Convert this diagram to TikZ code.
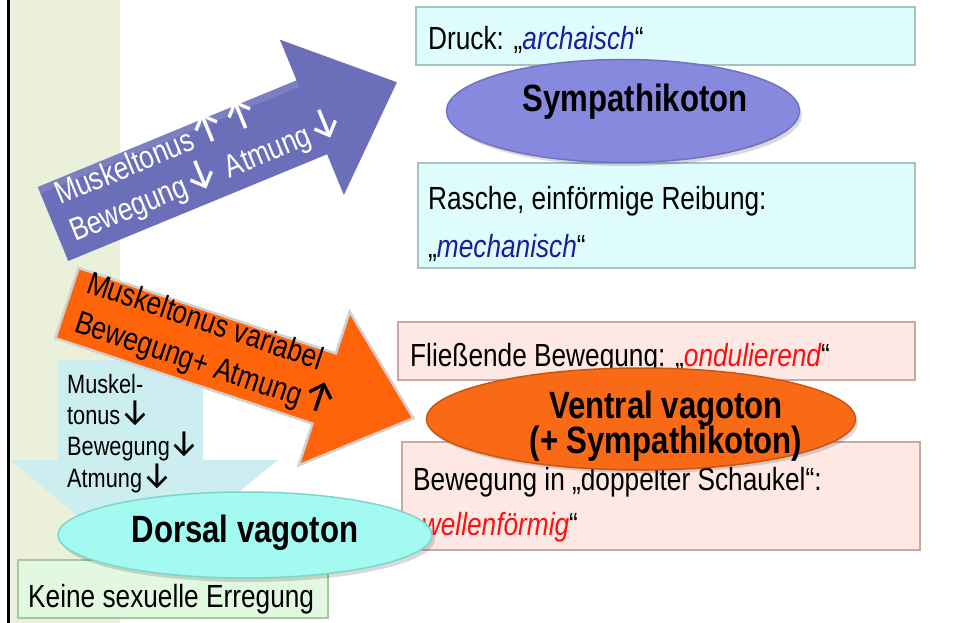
\documentclass[tikz,border=0pt]{standalone}
\usepackage{fontspec}
\setmainfont[FakeStretch=0.82]{Liberation Sans}
\newfontfamily\arrf{Fira Sans}
\newcommand{\dn}{\scalebox{1.25}[1.4]{\arrf ↓}}
\newcommand{\upa}{\scalebox{1.25}[1.4]{\arrf ↑}}
\usetikzlibrary{shapes.geometric}
\definecolor{bandc}{HTML}{EBF0DA}
\definecolor{cyanbox}{HTML}{DFFCFC}
\definecolor{cyanedge}{HTML}{A6C2C2}
\definecolor{pinkbox}{HTML}{FDE8E3}
\definecolor{pinkedge}{HTML}{C9A9A3}
\definecolor{greenbox}{HTML}{E2F8E0}
\definecolor{greenedge}{HTML}{A6C6A0}
\definecolor{sympc}{HTML}{8789DF}
\definecolor{sympedge}{HTML}{6F72BE}
\definecolor{ventc}{HTML}{F96A17}
\definecolor{ventedge}{HTML}{C9560F}
\definecolor{dorsc}{HTML}{A3FAF0}
\definecolor{dorsedge}{HTML}{7ED5CA}
\definecolor{barrowc}{HTML}{6B6EB8}
\definecolor{oarrowc}{HTML}{FF640A}
\definecolor{carrowc}{HTML}{CDEEF0}
\definecolor{navyt}{HTML}{1C1C9C}
\definecolor{redt}{HTML}{FF1010}
\tikzset{
  boxc/.style={rectangle, inner sep=0pt, outer sep=0pt, fill=cyanbox, draw=cyanedge, line width=1.5pt, anchor=north west},
  boxp/.style={rectangle, inner sep=0pt, outer sep=0pt, fill=pinkbox, draw=pinkedge, line width=1.5pt, anchor=north west},
  boxg/.style={rectangle, inner sep=0pt, outer sep=0pt, fill=greenbox, draw=greenedge, line width=1.5pt, anchor=north west},
  ell/.style={ellipse, inner sep=0pt, outer sep=0pt, line width=1.5pt},
  txt/.style={anchor=base west, inner sep=0pt, font=\fontsize{32}{38}\selectfont},
  head/.style={anchor=base, inner sep=0pt, font=\fontsize{38}{44}\selectfont\bfseries},
  atxt/.style={anchor=base west, inner sep=0pt, font=\fontsize{32}{38}\selectfont},
  ctxt/.style={anchor=base west, inner sep=0pt, font=\fontsize{26.5}{31}\selectfont},
}
\begin{document}
\begin{tikzpicture}[x=1pt,y=-1pt]
\useasboundingbox (0,0) rectangle (954,623);
\fill[white] (0,0) rectangle (954,623);
\fill[bandc] (10,0) rectangle (120,623);
\fill[black] (7,0) rectangle (10,623);

% top right cyan boxes
\node[boxc, minimum width=499pt, minimum height=58pt] (bx1) at (416,7) {};
\node[boxc, minimum width=497pt, minimum height=105pt] (bx2) at (418,163) {};
\node[txt] (t1) at (428,50) {Druck: „\textit{\color{navyt}archaisch}“};
\node[txt] (t2a) at (428,210) {Rasche, einförmige Reibung:};
\node[txt] (t2b) at (428,258) {„\textit{\color{navyt}mechanisch}“};
\fill[black, opacity=0.15] (626,115) ellipse (176pt and 51pt);
\node[ell, fill=sympc, draw=sympedge, minimum width=353pt, minimum height=103pt] (symp) at (623,111) {};
\node[head] (symt) at (635,112) {Sympathikoton};

% blue arrow
\begin{scope}[shift={(53,224)}, rotate=22.4]
\fill[barrowc] (0,-40) -- (280,-40) -- (280,-84) -- (372,0) -- (280,84) -- (280,40) -- (0,40) -- cycle;
\fill[white, opacity=0.12] (0,-40) -- (280,-40) -- (280,-33) -- (0,-33) -- cycle;
\end{scope}
\node[atxt, rotate=22.4, text=white] (bt1) at (60,205) {Muskeltonus\upa\upa};
\node[atxt, rotate=22.4, text=white] (bt2) at (75,242) {Bewegung\dn{} Atmung\dn};

% cyan down arrow
\fill[carrowc] (58,360) -- (203,360) -- (203,460) -- (278,460) -- (144,570) -- (10,460) -- (58,460) -- cycle;
\node[ctxt] (c1) at (67,393) {Muskel-};
\node[ctxt] (c2) at (67,424) {tonus\dn};
\node[ctxt] (c3) at (67,455) {Bewegung\dn};
\node[ctxt] (c4) at (67,487) {Atmung\dn};

% orange arrow
\begin{scope}[shift={(67,303)}, rotate=-18.4]
\draw[fill=oarrowc, draw=black!18, line width=2.5pt, line join=miter] (0,-37) -- (271,-37) -- (271,-81) -- (365,0) -- (271,81) -- (271,37) -- (0,37) -- cycle;
\end{scope}
\node[atxt, rotate=-18.4] (o1) at (85,292) {Muskeltonus variabel};
\node[atxt, rotate=-18.4] (o2) at (73,331) {Bewegung+ Atmung\upa};

% pink boxes
\node[boxp, minimum width=517pt, minimum height=58pt] (bx3) at (398,322) {};
\node[boxp, minimum width=518pt, minimum height=108pt] (bx4) at (402,442) {};
\node[txt] (t3) at (410,366) {Fließende Bewegung: „\textit{\color{redt}ondulierend}“};
\node[txt] (t4a) at (413,490) {Bewegung in „doppelter Schaukel“:};
\node[txt] (t4b) at (413,535) {„\textit{\color{redt}wellenförmig}“};
\fill[black, opacity=0.15] (644,423) ellipse (214pt and 50pt);
\node[ell, fill=ventc, draw=ventedge, minimum width=429pt, minimum height=102pt] (vent) at (641,419) {};
\node[head] (vt1) at (666,418) {Ventral vagoton};
\node[head] (vt2) at (666,453) {(+ Sympathikoton)};

% green box
\node[boxg, minimum width=310pt, minimum height=58pt] (bx5) at (18,560) {};
\node[txt] (t5) at (28,607) {Keine sexuelle Erregung};
\fill[black, opacity=0.15] (248,539) ellipse (187pt and 43pt);
\node[ell, fill=dorsc, draw=dorsedge, minimum width=374pt, minimum height=86pt] (dors) at (245,535) {};
\node[head] (dt) at (245,542) {Dorsal vagoton};
\end{tikzpicture}
\end{document}
